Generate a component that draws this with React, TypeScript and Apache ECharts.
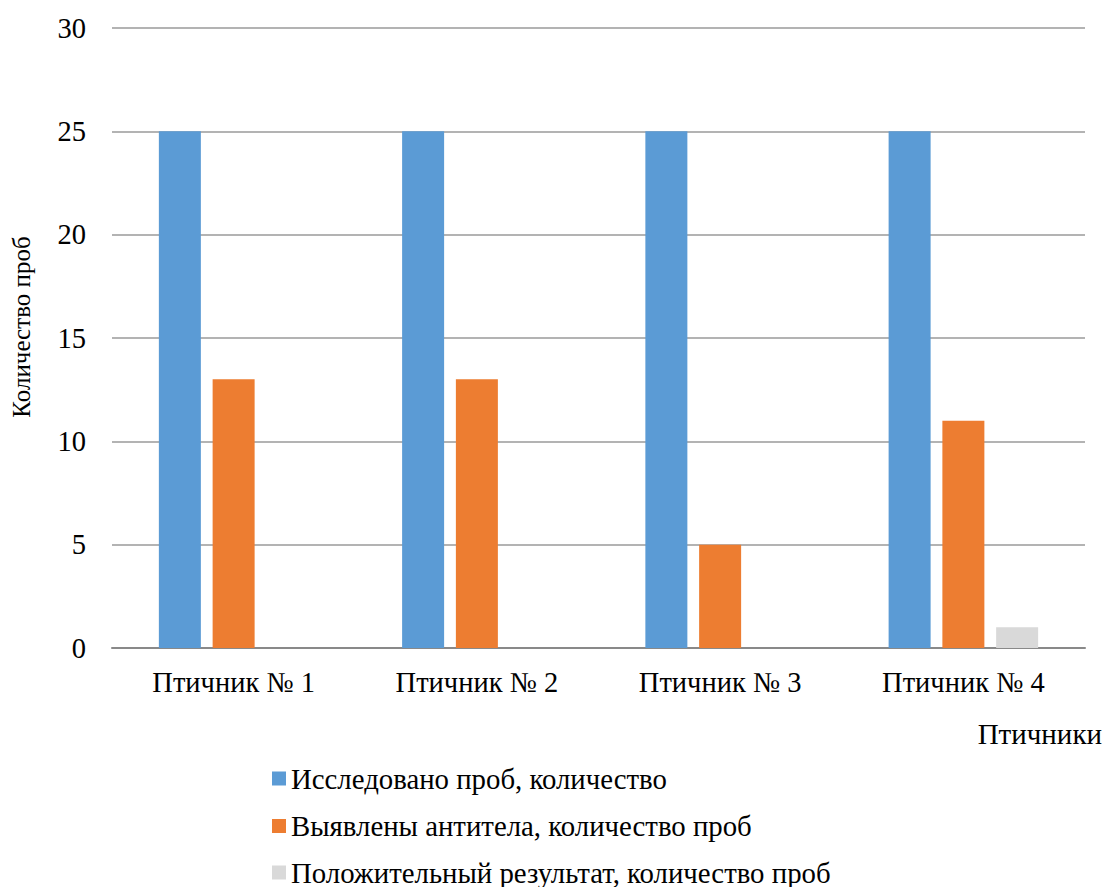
import React, { useEffect, useRef } from "react";
import * as echarts from "echarts";

const categories = ["Птичник № 1", "Птичник № 2", "Птичник № 3", "Птичник № 4"];
const seriesNames = [
  "Исследовано проб, количество",
  "Выявлены антитела, количество проб",
  "Положительный результат, количество проб",
];
const studied = [25, 25, 25, 25];
const antibodies = [13, 13, 5, 11];
const positive = [0, 0, 0, 1];
const colors = ["#5B9BD5", "#ED7D31", "#D9D9D9"];
const yTicks = { min: 0, max: 30, interval: 5 };

const FONT = "Liberation Serif";
const legendTops = [763.5, 811, 857.5];

export default function App() {
  const ref = useRef<HTMLDivElement>(null);
  useEffect(() => {
    document.body.style.margin = "0";
    const chart = echarts.init(ref.current!, null, { renderer: "svg" });
    const values = [studied, antibodies, positive];
    chart.setOption({
      animation: false,
      textStyle: { fontFamily: FONT, color: "#000" },
      grid: { left: 112, right: 21, top: 28, bottom: 239, containLabel: false },
      xAxis: {
        type: "category",
        data: categories,
        axisLine: { lineStyle: { color: "#898989", width: 2 } },
        axisTick: { show: false },
        axisLabel: { fontFamily: FONT, fontSize: 28.5, color: "#000", margin: 20 },
      },
      yAxis: {
        type: "value",
        min: yTicks.min,
        max: yTicks.max,
        interval: yTicks.interval,
        name: "Количество проб",
        nameLocation: "middle",
        nameGap: 78,
        nameRotate: 90,
        nameTextStyle: { fontFamily: FONT, fontSize: 25, color: "#000", padding: [0, 0, 0, 22] },
        axisLine: { show: false },
        axisTick: { show: false },
        axisLabel: { fontFamily: FONT, fontSize: 28.5, color: "#000", margin: 26 },
        splitLine: { lineStyle: { color: "#9A9A9A", width: 1.5 } },
      },
      legend: seriesNames.map((n, i) => ({
        orient: "vertical",
        left: 272,
        top: legendTops[i],
        padding: 0,
        itemWidth: 14,
        itemHeight: 14,
        itemGap: 0,
        icon: "rect",
        textStyle: { fontFamily: FONT, fontSize: 28.8, color: "#000", lineHeight: 30 },
        data: [n],
      })),
      graphic: [
        {
          type: "text",
          right: 4,
          top: 719,
          style: { text: "Птичники", font: `29px ${FONT}`, fill: "#000" },
        },
      ],
      series: seriesNames.map((n, i) => ({
        name: n,
        type: "bar",
        data: values[i],
        barWidth: 42,
        barGap: "28%",
        itemStyle: { color: colors[i] },
      })),
    });
    return () => chart.dispose();
  }, []);
  return <div ref={ref} style={{ width: 1106, height: 887 }} />;
}
